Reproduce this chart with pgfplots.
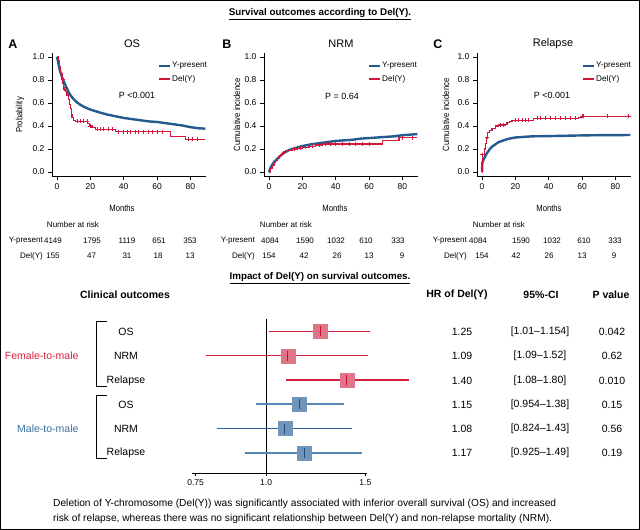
\documentclass[border=0pt]{standalone}
\usepackage{pgfplots}
\pgfplotsset{compat=1.18}
\usepackage{fontspec}
\setmainfont{Liberation Sans}
\newfontfamily\narrowfont[FakeStretch=0.85]{Liberation Sans}
\definecolor{kmblue}{HTML}{245A8E}
\definecolor{kmred}{HTML}{D2163C}
\definecolor{sqred}{HTML}{E07489}
\definecolor{sqblue}{HTML}{7095BB}
\definecolor{lnred}{HTML}{D8213F}
\definecolor{lnblue}{HTML}{3B6FA0}
\definecolor{lnblueL}{HTML}{5786B2}
\definecolor{lnblueD}{HTML}{2C639A}
\definecolor{tkred}{HTML}{C0102E}
\definecolor{tkblue}{HTML}{1F4E7E}
\newcommand{\fs}[1]{\fontsize{#1}{#1}\selectfont}
\pgfplotsset{kmaxis/.style={
  scale only axis, width=154.2pt, height=123pt,
  xmin=-3, xmax=89.5, ymin=-0.035, ymax=1.035,
  axis x line*=bottom, axis y line*=left,
  xtick={0,20,40,60,80}, ytick={0,0.2,0.4,0.6,0.8,1.0},
  yticklabel style={/pgf/number format/fixed,/pgf/number format/fixed zerofill,/pgf/number format/precision=1},
  tick label style={font=\fs{8.5}},
  /pgf/number format/assume math mode=true,
  tick align=outside, major tick length=4pt,
  anchor=south west, clip=false,
  axis line style={line width=0.8pt,black},
  tick style={line width=0.8pt,black},
}}
\begin{document}
\begin{tikzpicture}
\draw[line width=1.2pt] (0.6pt,0.6pt) rectangle (639.4pt,529.4pt);
% ---------- titles
\begin{scope}[x=1pt,y=1pt]
\node[font=\fs{9.8}\bfseries] at (320,516) {\underline{Survival outcomes according to Del(Y).}};
\node[font=\fs{12.5}\bfseries] at (13,486) {A};
\node[font=\fs{12.5}\bfseries] at (227,486) {B};
\node[font=\fs{12.5}\bfseries] at (438,486) {C};
\node[font=\fs{11}] at (132,486) {OS};
\node[font=\fs{11}] at (341,486) {NRM};
\node[font=\fs{11}] at (553,486) {Relapse};
\end{scope}
% ---------- Panel A
\begin{axis}[kmaxis, at={(52pt,354pt)}]
\addplot[kmblue, line width=2.4pt] coordinates {(0,1) (0.5,0.97) (1,0.93) (2,0.87) (3,0.825) (4,0.79) (5,0.755) (6,0.725) (7,0.695) (8,0.67) (9,0.65) (10,0.633) (12,0.605) (14,0.585) (16,0.568) (18,0.555) (20,0.543) (25,0.52) (30,0.50) (35,0.485) (40,0.47) (45,0.46) (50,0.45) (55,0.44) (60,0.435) (65,0.425) (70,0.415) (75,0.405) (80,0.39) (85,0.38) (89,0.377)};
\addplot[kmred, line width=1.1pt, const plot] coordinates {(0,1.0) (1,0.97) (1.5,0.92) (2,0.86) (3,0.81) (3.5,0.77) (4,0.72) (5,0.70) (6,0.67) (7,0.63) (7.5,0.59) (8,0.55) (8.5,0.50) (9,0.47) (10,0.45) (11,0.44) (18.5,0.425) (19.5,0.40) (21,0.385) (23,0.372) (35,0.35) (68,0.31) (77,0.285) (89,0.285)};
\addplot[only marks, mark=+, kmred, mark size=2pt, mark options={line width=0.6pt}] coordinates {(3.3,0.81) (4.5,0.72) (12,0.44) (14,0.44) (16,0.44) (18,0.44) (20,0.40) (24,0.372) (26,0.372) (28,0.372) (31,0.372) (33,0.372) (37,0.35) (40,0.35) (42,0.35) (44,0.35) (47,0.35) (49,0.35) (52,0.35) (55,0.35) (57,0.35) (60,0.35) (63,0.35) (79,0.285) (81,0.285) (84,0.285)};
\end{axis}
% ---------- Panel B
\begin{axis}[kmaxis, at={(264pt,354pt)}]
\addplot[kmblue, line width=2.4pt] coordinates {(0,0) (0.5,0.02) (1,0.04) (2,0.065) (3,0.085) (4,0.10) (5,0.115) (6,0.13) (8,0.155) (10,0.175) (12,0.19) (15,0.205) (20,0.225) (25,0.24) (30,0.25) (35,0.26) (40,0.27) (45,0.275) (50,0.28) (55,0.29) (60,0.295) (65,0.30) (70,0.305) (75,0.31) (80,0.32) (85,0.325) (89,0.33)};
\addplot[kmred, line width=1.1pt, const plot] coordinates {(0,0) (1,0.03) (2,0.06) (3,0.08) (4,0.10) (5,0.12) (6,0.135) (7,0.15) (8,0.165) (9,0.175) (10,0.185) (12,0.19) (14,0.20) (17,0.205) (20,0.215) (24,0.225) (28,0.235) (32,0.243) (68,0.27) (78,0.298) (89,0.298)};
\addplot[only marks, mark=+, kmred, mark size=2pt, mark options={line width=0.6pt}] coordinates {(15,0.20) (19,0.205) (22,0.215) (26,0.225) (30,0.235) (34,0.243) (37,0.243) (40,0.243) (44,0.243) (48,0.243) (52,0.243) (56,0.243) (60,0.243) (80,0.298) (86,0.298)};
\end{axis}
% ---------- Panel C
\begin{axis}[kmaxis, at={(477pt,354pt)}]
\addplot[kmblue, line width=2.4pt] coordinates {(0,0) (0.2,0.08) (1,0.11) (2,0.14) (3,0.165) (4,0.185) (5,0.205) (6,0.22) (8,0.24) (10,0.26) (12,0.27) (15,0.285) (18,0.295) (20,0.30) (25,0.305) (30,0.31) (40,0.312) (50,0.315) (60,0.318) (70,0.32) (80,0.32) (89,0.322)};
\addplot[kmred, line width=1.1pt, const plot] coordinates {(0,0) (0.3,0.15) (1.5,0.20) (2,0.25) (2.5,0.30) (3.5,0.34) (4.5,0.36) (6,0.38) (8,0.40) (10,0.41) (15,0.43) (16.5,0.44) (18,0.45) (31,0.467) (58,0.475) (59.5,0.485) (89,0.485)};
\addplot[only marks, mark=+, kmred, mark size=2pt, mark options={line width=0.6pt}] coordinates {(0,0.15) (3,0.30) (11,0.41) (13,0.41) (20,0.45) (22,0.45) (24,0.45) (26,0.45) (28,0.45) (33,0.467) (35,0.467) (38,0.467) (41,0.467) (44,0.467) (47,0.467) (50,0.467) (53,0.467) (56,0.467) (60,0.485) (61,0.485) (75,0.485) (88,0.485)};
\end{axis}
% ---------- forest plot axis
\begin{axis}[at={(192pt,57pt)}, anchor=south west, scale only axis, width=175pt, height=154pt,
  xmode=log, xmin=0.739, xmax=1.51, ymin=0.177, ymax=6.51,
  axis x line*=bottom, axis y line*=left, y axis line style={draw=none}, ytick=\empty,
  clip=false,
  xtick={0.75,1,1.5}, xticklabels={0.75,1.0,1.5},
  tick label style={font=\fs{8.5}}, tick align=outside, major tick length=3pt,
  axis line style={line width=0.9pt,black}, tick style={line width=0.9pt,black}]
\addplot[color=black, line width=1pt] coordinates {(1,0.177) (1,6.51)};
\addplot[color=lnred, line width=1.4pt] coordinates {(1.01,6) (1.53,6)};
\addplot[color=lnred, line width=1.4pt] coordinates {(0.784,5) (1.515,5)};
\addplot[color=lnred, line width=1.4pt] coordinates {(1.084,4) (1.79,4)};
\addplot[color=lnblueL, line width=2.2pt] coordinates {(0.958,3) (1.377,3)};
\addplot[color=lnblueD, line width=1.4pt] coordinates {(0.817,2) (1.42,2)};
\addplot[color=lnblueL, line width=2.2pt] coordinates {(0.916,1) (1.48,1)};
\addplot[color=sqred, only marks, mark=square*, mark size=7pt] coordinates {(1.247,6) (1.093,5) (1.39,4)};
\addplot[color=sqblue, only marks, mark=square*, mark size=7pt] coordinates {(1.145,3) (1.079,2) (1.17,1)};
\addplot[color=tkred, only marks, mark=|, mark size=5pt, mark options={line width=0.8pt}] coordinates {(1.247,6) (1.093,5) (1.39,4)};
\addplot[color=tkblue, only marks, mark=|, mark size=5pt, mark options={line width=0.8pt}] coordinates {(1.145,3) (1.079,2) (1.17,1)};
\end{axis}
\begin{scope}[x=1pt,y=1pt]
% ---------- legends, p-values, labels
\foreach \lx/\tx in {159/171, 369/381, 583/595}{
  \draw[kmblue, line width=2.2pt] (\lx,464) -- (\lx+11,464);
  \draw[kmred, line width=1.1pt] (\lx,451) -- (\lx+11,451);
  \node[anchor=west, font=\fs{8.2}, inner sep=1pt] at (\tx,464) {Y-present};
  \node[anchor=west, font=\fs{8.2}, inner sep=1pt] at (\tx,451) {Del(Y)};
}
\node[font=\fs{9}] at (137,435) {P <0.001};
\node[font=\fs{9}] at (342,434) {P = 0.64};
\node[font=\fs{9}] at (552,435) {P <0.001};
\node[rotate=90, font=\narrowfont\fs{9}] at (20,415) {Probability};
\node[rotate=90, font=\narrowfont\fs{9}] at (237,415) {Cumulative incidence};
\node[rotate=90, font=\narrowfont\fs{9}] at (446,415) {Cumulative incidence};
\node[font=\narrowfont\fs{9}] at (122,322) {Months};
\node[font=\narrowfont\fs{9}] at (335,322) {Months};
\node[font=\narrowfont\fs{9}] at (549,322) {Months};
\node[font=\fs{8}] at (73,305) {Number at risk};
\node[font=\fs{8}] at (286,305) {Number at risk};
\node[font=\fs{8}] at (499,305) {Number at risk};
\begin{scope}[every node/.style={font=\fs{8}, inner sep=0pt}]
\node[anchor=east] at (43,289) {Y-present};
\node[anchor=east] at (43,274) {Del(Y)};
\node[anchor=east] at (255,289) {Y-present};
\node[anchor=east] at (255,274) {Del(Y)};
\node[anchor=east] at (467,289) {Y-present};
\node[anchor=east] at (467,274) {Del(Y)};
\foreach \x/\t in {53/4149, 92/1795, 127/1119, 159/651, 190/353, 270/4084, 305/1590, 336/1032, 366/610, 398/333, 478/4084, 521/1590, 552/1032, 584/610, 615/333}{\node at (\x,289) {\t};}
\foreach \x/\t in {53/155, 91.5/47, 127/31, 158/18, 190/13, 269/154, 304/42, 337/26, 369/13, 402/9, 482/154, 516/42, 549/26, 582/13, 614/9}{\node at (\x,274) {\t};}
\end{scope}
% ---------- forest text
\node[font=\fs{9.8}\bfseries] at (320,252) {\underline{Impact of Del(Y) on survival outcomes.}};
\node[font=\fs{10.5}\bfseries] at (125,235) {Clinical outcomes};
\node[font=\fs{10.5}\bfseries] at (457,235) {HR of Del(Y)};
\node[font=\fs{10.5}\bfseries] at (541,235) {95\%-CI};
\node[font=\fs{10.5}\bfseries] at (611,235) {P value};
\node[anchor=east, font=\fs{10.5}, text=lnred] at (82,174) {Female-to-male};
\node[anchor=east, font=\fs{10.5}, text=lnblue] at (82,101) {Male-to-male};
\draw[line width=1pt] (107,208) -- (96,208) -- (96,143) -- (107,143);
\draw[line width=1pt] (107,134) -- (96,134) -- (96,71) -- (107,71);
\foreach \y/\a/\b/\c/\d in {198.5/OS/1.25/{[1.01--1.154]}/0.042, 174/NRM/1.09/{[1.09--1.52]}/0.62, 149.5/Relapse/1.40/{[1.08--1.80]}/0.010, 125/OS/1.15/{[0.954--1.38]}/0.15, 101.5/NRM/1.08/{[0.824--1.43]}/0.56, 77/Relapse/1.17/{[0.925--1.49]}/0.19}{
  \node[font=\fs{10.5}] at (126,\y) {\a};
  \node[font=\fs{10.5}] at (462,\y) {\b};
  \node[font=\fs{10.5}] at (540,\y) {\c};
  \node[font=\fs{10.5}] at (612,\y) {\d};
}
% ---------- caption
\node[anchor=west, font=\fs{10.2}, inner sep=0pt] at (53,26) {Deletion of Y-chromosome (Del(Y)) was significantly associated with inferior overall survival (OS) and increased};
\node[anchor=west, font=\fs{10.2}, inner sep=0pt] at (53,11) {risk of relapse, whereas there was no significant relationship between Del(Y) and non-relapse mortality (NRM).};
\end{scope}
\end{tikzpicture}
\end{document}
